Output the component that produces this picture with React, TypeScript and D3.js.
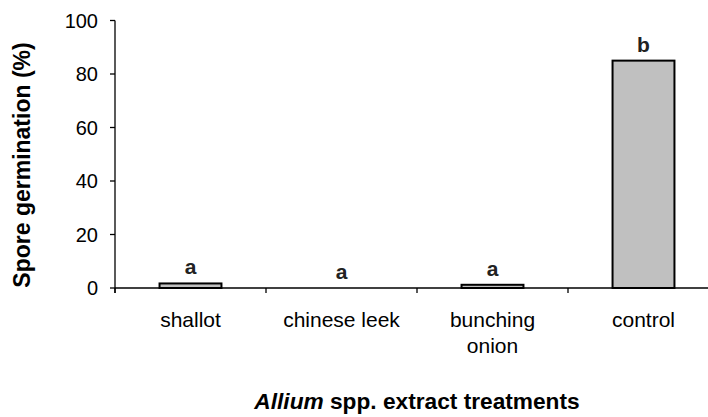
import React from "react";
import * as d3 from "d3";

const categories = ["shallot", "chinese leek", "bunching onion", "control"];
const categoryLines = [["shallot"], ["chinese leek"], ["bunching", "onion"], ["control"]];
const germination = [1.7, 0, 1.2, 85];
const letters = ["a", "a", "a", "b"];
const yTicks = [0, 20, 40, 60, 80, 100];

const W = 708;
const H = 417;
const left = 115;
const right = 719;
const y0 = 288;
const y100 = 20.5;

export default function App() {
  const y = d3.scaleLinear().domain([0, 100]).range([y0, y100]);
  const xTick = d3.scaleBand<string>().domain(categories).range([left, right]).padding(0);
  const xBar = d3
    .scaleBand<string>()
    .domain(categories)
    .range([left, right])
    .paddingInner(0.59)
    .paddingOuter(0.295);
  const font = "'Liberation Sans', Arial, sans-serif";
  const tickPositions = categories.map((c) => xTick(c) as number);
  return (
    <div style={{ position: "absolute", left: 0, top: 0 }}>
      <svg width={W} height={H} style={{ display: "block", background: "#fff" }} fontFamily={font}>
        {/* bars */}
        {categories.map((c, i) => (
          <rect
            key={c}
            x={xBar(c)}
            y={y(germination[i])}
            width={xBar.bandwidth()}
            height={y(0) - y(germination[i])}
            fill="#c0c0c0"
            stroke="#000"
            strokeWidth={2}
          />
        ))}
        {/* y axis */}
        <line x1={left} x2={left} y1={y(100)} y2={y(0) + 5} stroke="#000" strokeWidth={1.3} />
        {yTicks.map((t) => (
          <g key={t}>
            <line x1={left - 5} x2={left} y1={y(t)} y2={y(t)} stroke="#000" strokeWidth={1.3} />
            <text x={98} y={y(t)} dy="0.36em" textAnchor="end" fontSize={20} fill="#000">
              {t}
            </text>
          </g>
        ))}
        {/* x axis */}
        <line x1={left} x2={W} y1={y(0)} y2={y(0)} stroke="#000" strokeWidth={1.3} />
        {tickPositions.map((p, i) => (
          <line key={i} x1={p} x2={p} y1={y(0)} y2={y(0) + 5} stroke="#000" strokeWidth={1.3} />
        ))}
        {/* category labels */}
        {categories.map((c, i) => (
          <text
            key={c}
            x={(xTick(c) as number) + xTick.bandwidth() / 2}
            y={327}
            textAnchor="middle"
            fontSize={21}
            fill="#000"
          >
            {categoryLines[i].map((ln, j) => (
              <tspan key={j} x={(xTick(c) as number) + xTick.bandwidth() / 2} dy={j === 0 ? 0 : 26}>
                {ln}
              </tspan>
            ))}
          </text>
        ))}
        {/* letters */}
        {categories.map((c, i) => (
          <text
            key={c}
            x={(xBar(c) as number) + xBar.bandwidth() / 2}
            y={y(germination[i]) - 9}
            textAnchor="middle"
            fontSize={21}
            fontWeight="bold"
            fill="#222"
          >
            {letters[i]}
          </text>
        ))}
        {/* y label */}
        <text
          transform={`translate(30,165) rotate(-90)`}
          textAnchor="middle"
          fontSize={23}
          fontWeight="bold"
          fill="#000"
        >
          Spore germination (%)
        </text>
        {/* x title */}
        <text x={417} y={409} textAnchor="middle" fontSize={22.7} fontWeight="bold" fill="#000">
          <tspan fontStyle="italic">Allium</tspan> spp. extract treatments
        </text>
      </svg>
    </div>
  );
}
